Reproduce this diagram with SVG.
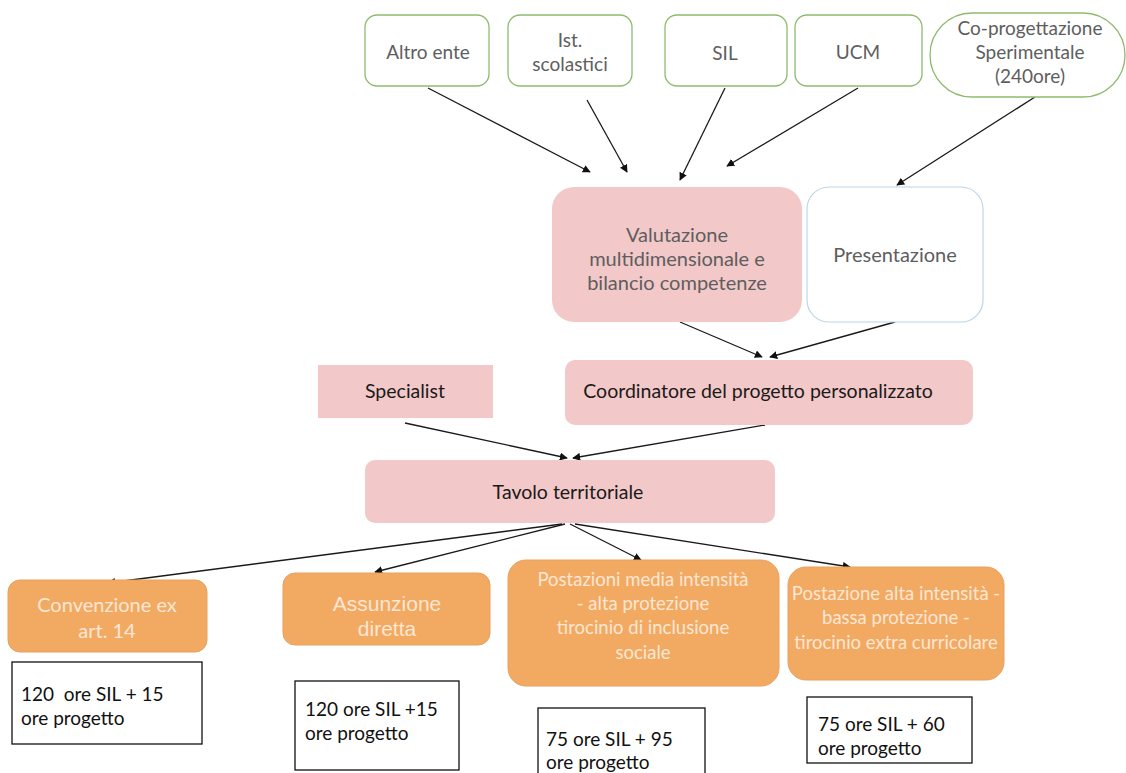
<svg xmlns="http://www.w3.org/2000/svg" width="1126" height="773" viewBox="0 0 1126 773">
<defs>
<marker id="ah" viewBox="0 0 10 10" refX="9" refY="5" markerWidth="8" markerHeight="8" markerUnits="userSpaceOnUse" orient="auto">
<path d="M0,0 L10,5 L0,10 z" fill="#111"/>
</marker>
<style>
.src{fill:#fff;stroke:#8fba6e;stroke-width:1.3}
.pink{fill:#f2c8c9;stroke:none}
.orange{fill:#f2aa62;stroke:#e8a060;stroke-width:1}
.note{fill:#fff;stroke:#111;stroke-width:1.3}
.t{font-family:Lato,"Liberation Sans",sans-serif;text-anchor:middle}
.g{fill:#5e5e5e;font-size:19px}
.v{fill:#5e5e5e;font-size:20px}
.k{fill:#1a1a1a;font-size:19.5px}
.o{fill:#fde6d4;font-size:18.5px}
.n{font-family:Lato,"Liberation Sans",sans-serif;fill:#111;font-size:19px}
.c{stroke:#1a1a1a;stroke-width:1.3;fill:none;marker-end:url(#ah)}
</style>
</defs>
<rect width="1126" height="773" fill="#fff"/>

<g id="connectors">
<line class="c" x1="428" y1="88" x2="590" y2="172"/>
<line class="c" x1="587" y1="100" x2="627" y2="172"/>
<line class="c" x1="725" y1="88" x2="680" y2="180"/>
<line class="c" x1="858" y1="88" x2="727" y2="166"/>
<line class="c" x1="1035" y1="97" x2="897" y2="185"/>
<line class="c" x1="680" y1="322" x2="762" y2="357"/>
<line class="c" x1="895" y1="322" x2="770" y2="357"/>
<line class="c" x1="405" y1="423" x2="567" y2="458"/>
<line class="c" x1="765" y1="425" x2="573" y2="458"/>
<line class="c" x1="562" y1="524" x2="108" y2="583"/>
<line class="c" x1="565" y1="524" x2="375" y2="572"/>
<line class="c" x1="570" y1="524" x2="641" y2="560"/>
<line class="c" x1="575" y1="524" x2="850" y2="567"/>
</g>

<g id="altro-ente">
<rect class="src" x="365" y="15" width="124" height="71" rx="12"/>
<text class="t g" x="428" y="59">Altro ente</text>
</g>
<g id="ist-scolastici">
<rect class="src" x="508" y="15" width="124" height="71" rx="12"/>
<text class="t g" x="570" y="47">Ist.</text>
<text class="t g" x="570" y="71">scolastici</text>
</g>
<g id="sil">
<rect class="src" x="665" y="15" width="122" height="71" rx="12"/>
<text class="t g" x="725" y="60">SIL</text>
</g>
<g id="ucm">
<rect class="src" x="795" y="15" width="127" height="71" rx="12"/>
<text class="t g" x="858" y="59">UCM</text>
</g>
<g id="co-progettazione">
<rect class="src" x="930" y="13" width="195" height="84" rx="42"/>
<text class="t g" x="1030" y="35">Co-progettazione</text>
<text class="t g" x="1030" y="59">Sperimentale</text>
<text class="t g" x="1030" y="83">(240ore)</text>
</g>

<g id="valutazione">
<rect class="pink" x="552" y="187" width="250" height="135" rx="22" stroke="#e2b4b6" stroke-width="1"/>
<text class="t v" x="677" y="242">Valutazione</text>
<text class="t v" x="677" y="266">multidimensionale e</text>
<text class="t v" x="677" y="290">bilancio competenze</text>
</g>
<g id="presentazione">
<rect x="807" y="187" width="176" height="135" rx="22" fill="#fff" stroke="#bcd6ea" stroke-width="1.2"/>
<text class="t v" x="895" y="262">Presentazione</text>
</g>

<g id="specialist">
<rect class="pink" x="318" y="365" width="175" height="53"/>
<text class="t k" x="405" y="398">Specialist</text>
</g>
<g id="coordinatore">
<rect class="pink" x="565" y="360" width="408" height="65" rx="10"/>
<text class="t k" x="758" y="398">Coordinatore del progetto personalizzato</text>
</g>
<g id="tavolo">
<rect class="pink" x="365" y="460" width="410" height="63" rx="10"/>
<text class="t k" x="568" y="499">Tavolo territoriale</text>
</g>

<g id="convenzione">
<rect class="orange" x="8" y="580" width="199" height="72" rx="12"/>
<text class="t o" x="107" y="612" style="font-size:20px">Convenzione ex</text>
<text class="t o" x="107" y="638" style="font-size:20px">art. 14</text>
</g>
<g id="assunzione">
<rect class="orange" x="283" y="573" width="207" height="72" rx="12"/>
<text class="t o" x="387" y="611" style="font-size:21px;font-family:'Liberation Sans',Arial,sans-serif">Assunzione</text>
<text class="t o" x="387" y="636" style="font-size:21px;font-family:'Liberation Sans',Arial,sans-serif">diretta</text>
</g>
<g id="postazioni-media">
<rect class="orange" x="508" y="560" width="271" height="126" rx="18"/>
<text class="t o" x="643" y="586">Postazioni media intensità</text>
<text class="t o" x="643" y="610">- alta protezione</text>
<text class="t o" x="643" y="634">tirocinio di inclusione</text>
<text class="t o" x="643" y="659">sociale</text>
</g>
<g id="postazione-alta">
<rect class="orange" x="788" y="567" width="216" height="113" rx="18"/>
<text class="t o" x="896" y="600">Postazione alta intensità -</text>
<text class="t o" x="896" y="624">bassa protezione -</text>
<text class="t o" x="896" y="649">tirocinio extra curricolare</text>
</g>

<g id="note-1">
<rect class="note" x="12" y="662" width="190" height="82"/>
<text class="n" x="21" y="701" xml:space="preserve">120  ore SIL + 15</text>
<text class="n" x="21" y="725">ore progetto</text>
</g>
<g id="note-2">
<rect class="note" x="295" y="681" width="164" height="89"/>
<text class="n" x="305" y="716">120 ore SIL +15</text>
<text class="n" x="305" y="740">ore progetto</text>
</g>
<g id="note-3">
<rect class="note" x="538" y="708" width="167" height="70"/>
<text class="n" x="546" y="746">75 ore SIL + 95</text>
<text class="n" x="546" y="769">ore progetto</text>
</g>
<g id="note-4">
<rect class="note" x="807" y="697" width="165" height="66"/>
<text class="n" x="818" y="731">75 ore SIL + 60</text>
<text class="n" x="818" y="755">ore progetto</text>
</g>
</svg>
